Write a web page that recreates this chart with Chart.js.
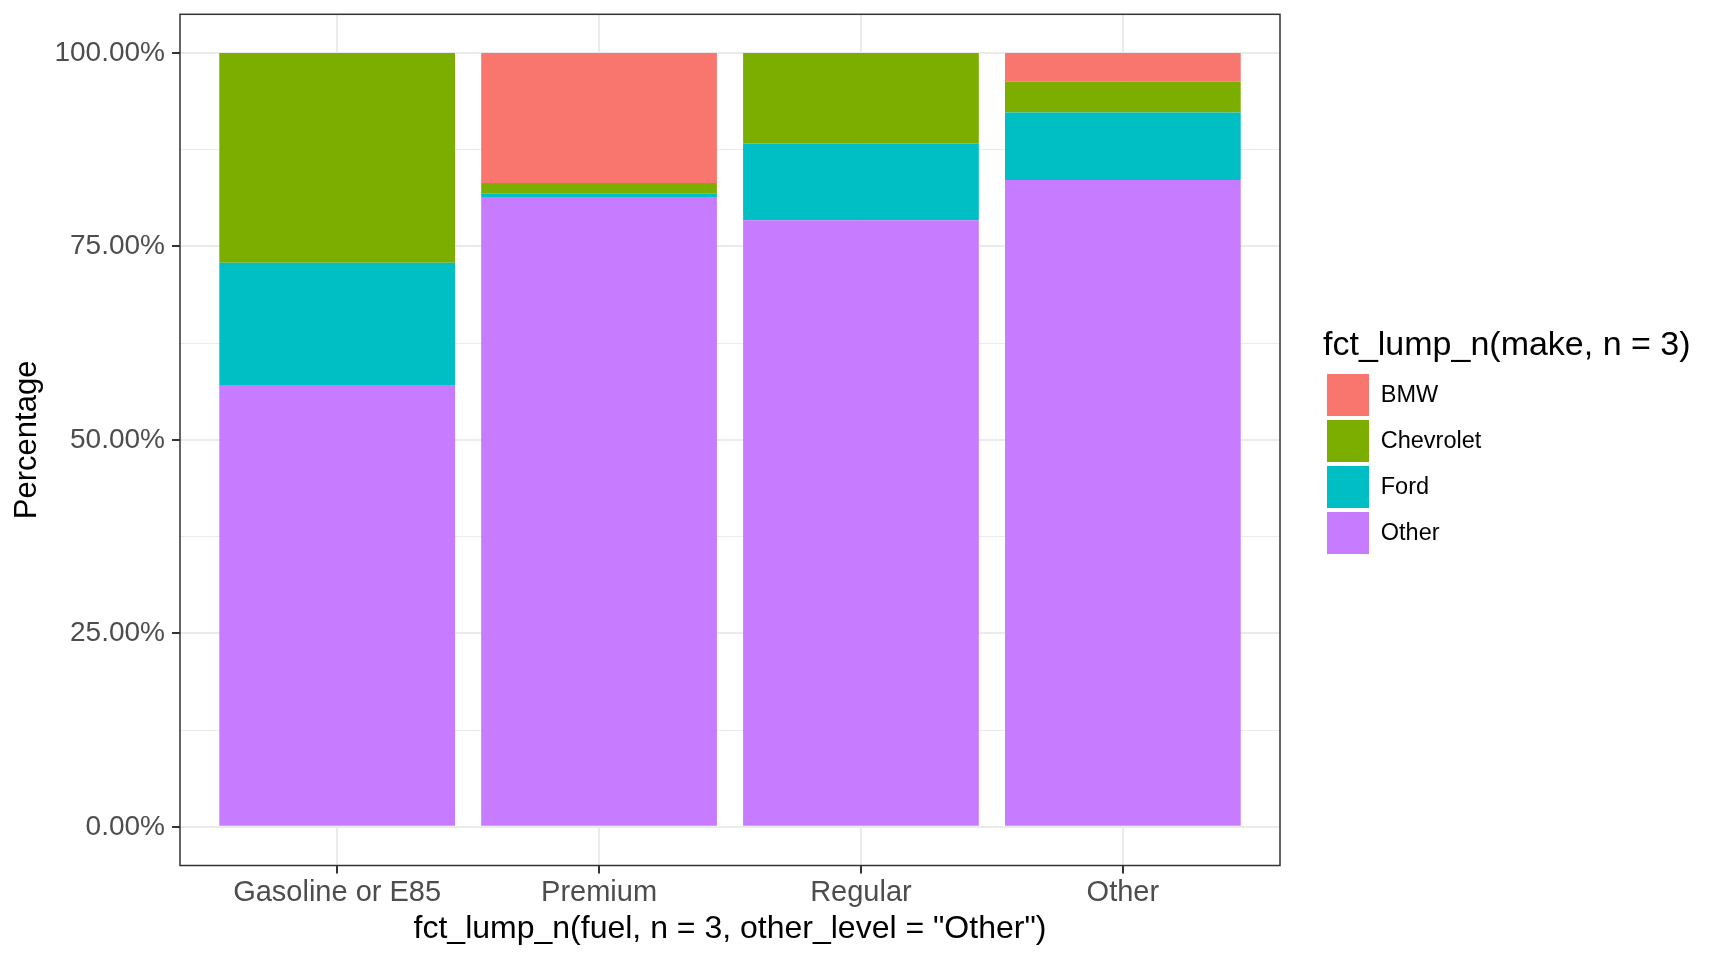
<!DOCTYPE html>
<html>
<head>
<meta charset="utf-8">
<script src="https://cdn.jsdelivr.net/npm/chart.js@4"></script>
<style>
  body { margin: 0; background: #fff; }
</style>
</head>
<body>
<canvas id="chart" width="1728" height="960"></canvas>
<script>
// categories on the x axis
const fuels = ["Gasoline or E85", "Premium", "Regular", "Other"];
// share of each make inside each fuel group
const otherMake = [0.571, 0.814, 0.784, 0.836];
const ford = [0.158, 0.004, 0.099, 0.087];
const chevrolet = [0.271, 0.014, 0.117, 0.040];
const bmw = [0.000, 0.168, 0.000, 0.037];
// y ticks
const yMajor = [0, 0.25, 0.5, 0.75, 1];
const yMinor = [0.125, 0.375, 0.625, 0.875];
const yLabels = ["0.00%", "25.00%", "50.00%", "75.00%", "100.00%"];

const font = "Liberation Sans";

const toPoints = (vals) => vals.map((v, i) => ({ x: i + 1, y: v }));

// ggplot-like panel border
const panelBorder = {
  id: "panelBorder",
  afterDatasetsDraw(chart) {
    const a = chart.chartArea;
    const ctx = chart.ctx;
    ctx.save();
    ctx.strokeStyle = "#333333";
    ctx.lineWidth = 1.5;
    ctx.strokeRect(a.left, a.top, a.right - a.left, a.bottom - a.top);
    ctx.restore();
  }
};

// legend box wide enough for its long title (otherwise it gets clipped)
const wideLegend = {
  id: "wideLegend",
  afterInit(chart) {
    const lg = chart.legend;
    const fit = lg.fit.bind(lg);
    lg.fit = () => { fit(); lg.width = 405; };
  }
};

new Chart(document.getElementById("chart"), {
  type: "bar",
  data: {
    // bottom of the stack first
    datasets: [
      { label: "Other", data: toPoints(otherMake), backgroundColor: "#C77CFF" },
      { label: "Ford", data: toPoints(ford), backgroundColor: "#00BFC4" },
      { label: "Chevrolet", data: toPoints(chevrolet), backgroundColor: "#7CAE00" },
      { label: "BMW", data: toPoints(bmw), backgroundColor: "#F8766D" }
    ]
  },
  options: {
    responsive: false,
    animation: false,
    devicePixelRatio: 1,
    layout: { padding: { top: 14.3, left: 0, right: 0, bottom: 0 } },
    datasets: {
      bar: { barPercentage: 0.9, categoryPercentage: 1, borderWidth: 0 }
    },
    scales: {
      x: {
        type: "linear",
        stacked: true,
        min: 0.4,
        max: 4.6,
        offset: false,
        afterBuildTicks: (s) => { s.ticks = fuels.map((f, i) => ({ value: i + 1 })); },
        afterFit: (s) => { s.height = 94.5; s.paddingLeft = 0; s.paddingRight = 0; },
        grid: { offset: false, color: "#EBEBEB", lineWidth: 2, tickColor: "#333333", tickWidth: 2, tickLength: 8 },
        border: { display: false },
        ticks: {
          padding: 2,
          color: "#4D4D4D",
          font: { family: font, size: 29 },
          maxRotation: 0,
          autoSkip: false,
          callback: (v) => fuels[v - 1]
        },
        title: {
          display: true,
          text: 'fct_lump_n(fuel, n = 3, other_level = "Other")',
          color: "#000",
          font: { family: font, size: 32 },
          padding: { top: 0, bottom: 11.5 }
        }
      },
      y: {
        stacked: true,
        min: -0.05,
        max: 1.05,
        afterBuildTicks: (s) => {
          s.ticks = yMajor.concat(yMinor).sort((a, b) => a - b).map((v) => ({ value: v }));
        },
        afterFit: (s) => { s.width = 180; s.paddingTop = 0; s.paddingBottom = 0; },
        grid: {
          color: "#EBEBEB",
          lineWidth: (c) => (yMajor.includes(c.tick.value) ? 2 : 1),
          tickColor: (c) => (yMajor.includes(c.tick.value) ? "#333333" : "rgba(0,0,0,0)"),
          tickWidth: 2,
          tickLength: 8
        },
        border: { display: false },
        ticks: {
          padding: 7,
          color: "#4D4D4D",
          font: { family: font, size: 28 },
          autoSkip: false,
          callback: (v) => {
            const i = yMajor.indexOf(v);
            return i >= 0 ? yLabels[i] : "";
          }
        },
        title: {
          display: true,
          text: "Percentage",
          color: "#000",
          font: { family: font, size: 31 },
          padding: { top: 9, bottom: 0 }
        }
      },
      gap: {
        type: "linear",
        position: "right",
        afterFit: (s) => { s.width = 43; s.paddingTop = 0; s.paddingBottom = 0; },
        grid: { display: false },
        border: { display: false },
        ticks: { display: false }
      }
    },
    plugins: {
      legend: {
        position: "right",
        fullSize: false,
        align: "center",
        reverse: true,
        labels: {
          boxWidth: 42,
          boxHeight: 42,
          padding: 4,
          color: "#000",
          font: { family: font, size: 23.5 }
        },
        title: {
          display: true,
          position: "start",
          text: "fct_lump_n(make, n = 3)",
          color: "#000",
          font: { family: font, size: 34 },
          padding: { top: 6.8, bottom: 0.8 }
        }
      },
      tooltip: { enabled: false }
    }
  },
  plugins: [panelBorder, wideLegend]
});
</script>
</body>
</html>
